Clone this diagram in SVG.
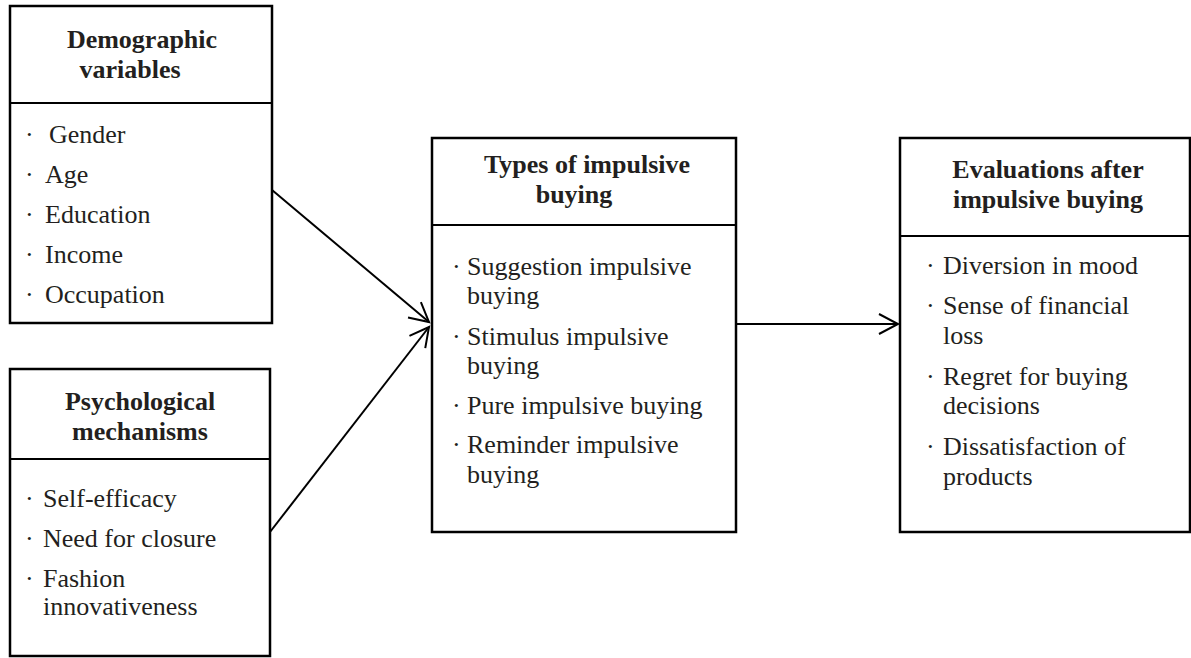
<svg xmlns="http://www.w3.org/2000/svg" width="1191" height="658" viewBox="0 0 1191 658">
<style>
.box{fill:#fff;stroke:#000;stroke-width:2.5}
.div{stroke:#000;stroke-width:2}
.h{font-family:"Liberation Serif","Times New Roman",serif;font-weight:bold;font-size:26px;fill:#231f20;text-anchor:middle}
.t{font-family:"Liberation Serif","Times New Roman",serif;font-size:26px;fill:#231f20}
.conn{stroke:#000;stroke-width:2;fill:none;marker-end:url(#arr)}
</style>
<defs>
<marker id="arr" markerUnits="userSpaceOnUse" markerWidth="24" markerHeight="24" viewBox="0 0 24 24" refX="21" refY="12" orient="auto">
<path d="M2,2 L21,12 L2,22" fill="none" stroke="#000" stroke-width="2"/>
</marker>
</defs>
<rect width="1191" height="658" fill="#fff"/>
<g id="connectors">
<line class="conn" x1="272" y1="190" x2="429" y2="322"/>
<line class="conn" x1="270" y1="532" x2="429" y2="327"/>
<line class="conn" x1="736" y1="324" x2="898" y2="324"/>
</g>
<g id="demographic">
<rect class="box" x="10" y="6" width="262" height="317"/>
<line class="div" x1="10" y1="103" x2="272" y2="103"/>
<text class="h" x="142" y="48">Demographic</text>
<text class="h" x="130" y="78">variables</text>
<text class="t" x="25" y="143">·</text><text class="t" x="49" y="143">Gender</text>
<text class="t" x="25" y="183">·</text><text class="t" x="45" y="183">Age</text>
<text class="t" x="25" y="223">·</text><text class="t" x="45" y="223">Education</text>
<text class="t" x="25" y="263">·</text><text class="t" x="45" y="263">Income</text>
<text class="t" x="25" y="303">·</text><text class="t" x="45" y="303">Occupation</text>
</g>
<g id="psychological">
<rect class="box" x="10" y="369" width="260" height="287"/>
<line class="div" x1="10" y1="459" x2="270" y2="459"/>
<text class="h" x="140" y="410">Psychological</text>
<text class="h" x="140" y="440">mechanisms</text>
<text class="t" x="25" y="507">·</text><text class="t" x="43" y="507">Self-efficacy</text>
<text class="t" x="25" y="547">·</text><text class="t" x="43" y="547">Need for closure</text>
<text class="t" x="25" y="587">·</text><text class="t" x="43" y="587">Fashion</text>
<text class="t" x="43" y="615">innovativeness</text>
</g>
<g id="types">
<rect class="box" x="432" y="138" width="304" height="394"/>
<line class="div" x1="432" y1="225" x2="736" y2="225"/>
<text class="h" x="587" y="173">Types of impulsive</text>
<text class="h" x="574" y="203">buying</text>
<text class="t" x="452" y="275">·</text><text class="t" x="467" y="275">Suggestion impulsive</text>
<text class="t" x="467" y="304">buying</text>
<text class="t" x="452" y="345">·</text><text class="t" x="467" y="345">Stimulus impulsive</text>
<text class="t" x="467" y="374">buying</text>
<text class="t" x="452" y="414">·</text><text class="t" x="467" y="414">Pure impulsive buying</text>
<text class="t" x="452" y="453">·</text><text class="t" x="467" y="453">Reminder impulsive</text>
<text class="t" x="467" y="483">buying</text>
</g>
<g id="evaluations">
<rect class="box" x="900" y="138" width="290" height="394"/>
<line class="div" x1="900" y1="236" x2="1190" y2="236"/>
<text class="h" x="1048" y="178">Evaluations after</text>
<text class="h" x="1048" y="208">impulsive buying</text>
<text class="t" x="926" y="274">·</text><text class="t" x="943" y="274">Diversion in mood</text>
<text class="t" x="926" y="314">·</text><text class="t" x="943" y="314">Sense of financial</text>
<text class="t" x="943" y="344">loss</text>
<text class="t" x="926" y="385">·</text><text class="t" x="943" y="385">Regret for buying</text>
<text class="t" x="943" y="414">decisions</text>
<text class="t" x="926" y="455">·</text><text class="t" x="943" y="455">Dissatisfaction of</text>
<text class="t" x="943" y="485">products</text>
</g>
</svg>
